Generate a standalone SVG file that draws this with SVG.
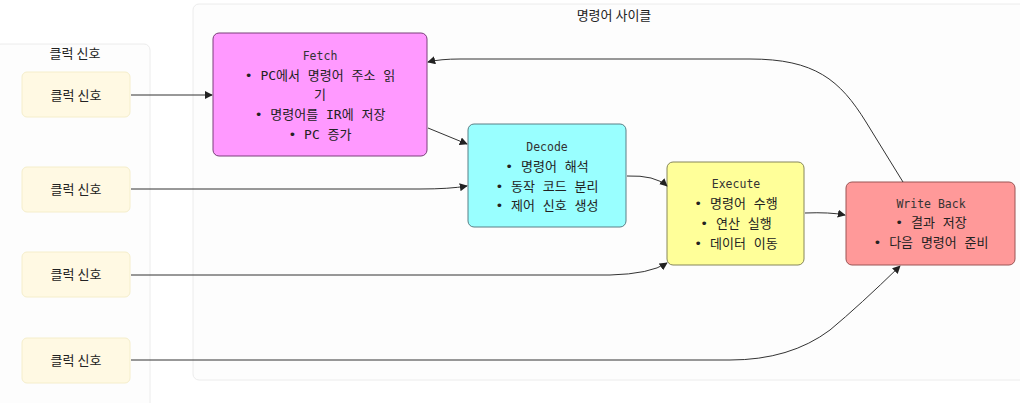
<svg xmlns="http://www.w3.org/2000/svg" width="1020" height="403" viewBox="0 0 1020 403">
<defs>
<marker id="arr" viewBox="0 0 10 10" refX="9" refY="5" markerWidth="8" markerHeight="8" orient="auto-start-reverse" markerUnits="userSpaceOnUse"><path d="M0,0 L10,5 L0,10 z" fill="#222"/></marker>
<style>
text{font-family:"DejaVu Sans Mono","Noto Sans CJK KR",monospace;font-size:13px;fill:#222;text-anchor:middle}
.k{font-family:"Noto Sans CJK KR","DejaVu Sans",sans-serif;font-size:13px}
.ttl{font-size:11.5px;fill:#333}
.clk rect{fill:#fff9e3;stroke:#f5eecb;stroke-width:1}
.edge{fill:none;stroke:#333;stroke-width:1;marker-end:url(#arr)}
</style>
</defs>
<rect width="1020" height="403" fill="#ffffff"/>
<g id="cluster-cycle">
<rect x="193" y="4" width="840" height="376" rx="6" fill="#fdfdfd" stroke="#ececec"/>
<text class="k" x="614" y="20">명령어 사이클</text>
</g>
<g id="cluster-clock">
<rect x="-5" y="44" width="155" height="370" rx="6" fill="#fdfdfd" stroke="#ececec"/>
<text class="k" x="75" y="58">클럭 신호</text>
</g>
<g id="clk1" class="clk"><rect x="22" y="72" width="108" height="45" rx="5"/><text class="k" x="76" y="100">클럭 신호</text></g>
<g id="clk2" class="clk"><rect x="22" y="167" width="108" height="45" rx="5"/><text class="k" x="76" y="194">클럭 신호</text></g>
<g id="clk3" class="clk"><rect x="22" y="252" width="108" height="45" rx="5"/><text class="k" x="76" y="279">클럭 신호</text></g>
<g id="clk4" class="clk"><rect x="22" y="338" width="108" height="45" rx="5"/><text class="k" x="76" y="365">클럭 신호</text></g>
<g id="fetch">
<rect x="213" y="33" width="214" height="123" rx="6" fill="#ff99ff" stroke="#7a3f7a"/>
<text class="ttl" x="320" y="60">Fetch</text>
<text x="320" y="80">• PC에서 명령어 주소 읽</text>
<text x="320" y="99">기</text>
<text x="320" y="119">• 명령어를 IR에 저장</text>
<text x="320" y="139">• PC 증가</text>
</g>
<g id="decode">
<rect x="468" y="124" width="158" height="103" rx="6" fill="#99ffff" stroke="#5a7f86"/>
<text class="ttl" x="547" y="151">Decode</text>
<text x="547" y="171">• 명령어 해석</text>
<text x="547" y="191">• 동작 코드 분리</text>
<text x="547" y="210">• 제어 신호 생성</text>
</g>
<g id="execute">
<rect x="667" y="162" width="137" height="103" rx="6" fill="#ffff99" stroke="#86865a"/>
<text class="ttl" x="736" y="188">Execute</text>
<text x="736" y="208">• 명령어 수행</text>
<text x="736" y="228">• 연산 실행</text>
<text x="736" y="248">• 데이터 이동</text>
</g>
<g id="writeback">
<rect x="846" y="182" width="169" height="83" rx="6" fill="#ff9999" stroke="#9a5555"/>
<text class="ttl" x="931" y="208">Write Back</text>
<text x="931" y="227">• 결과 저장</text>
<text x="931" y="247">• 다음 명령어 준비</text>
</g>
<g id="connectors">
<path class="edge" d="M131,95 L212,95"/>
<path class="edge" d="M131,189 L420,189 Q450,189 467,186"/>
<path class="edge" d="M131,275 L610,275 Q650,274 667,263"/>
<path class="edge" d="M131,360 L730,360 Q790,360 830,330 Q860,305 900,266"/>
<path class="edge" d="M428,128 L467,144"/>
<path class="edge" d="M627,176 Q655,175 667,186"/>
<path class="edge" d="M805,213 Q830,212 845,215"/>
<path class="edge" d="M903,182 L866,122 C840,80 815,59 750,59 L460,59 Q440,59 428,62"/>
</g>
</svg>
